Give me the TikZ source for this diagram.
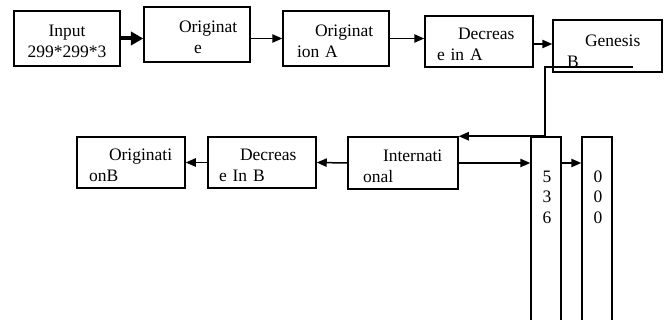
\documentclass[tikz,border=0pt]{standalone}
\usepackage{fontspec}
\setmainfont{Liberation Serif}
\usetikzlibrary{arrows.meta}

\tikzset{
    blk/.style={draw, line width=0.9pt, inner sep=0pt, align=left,
        minimum width=64.8pt, minimum height=31.2pt, text width=64.8pt,
        execute at begin node=\rule{0pt}{10.8pt}},
    col/.style={draw, line width=0.9pt, inner sep=0pt,
        minimum width=18pt, minimum height=115.8pt},
    arr/.style={line width=0.9pt, -{Triangle[length=6pt,width=5pt]}},
}

\begin{document}
\begin{tikzpicture}[x=0.6pt, y=-0.6pt, font=\fontsize{10.5}{12.6}\selectfont]
    \clip (0,0) rectangle (669,320);
    % top row
    \node[blk, minimum width=63.6pt, text width=63.6pt, minimum height=33pt, align=center] (inp) at (67,38.5) {Input\\299*299*3};
    \node[blk, minimum width=63.6pt, text width=63.6pt, minimum height=33pt] (orig) at (197,34.5) {\hspace*{21pt}Originat\\\hspace*{30pt}e};
    \node[blk, minimum width=63.6pt, text width=63.6pt, minimum height=33pt] (origA) at (336,38.5) {\hspace*{19.2pt}Originat\\\hspace*{8.4pt}ion A};
    \node[blk, minimum height=30.6pt] (decA) at (479,41.5) {\hspace*{19.8pt}Decreas\\\hspace*{7.2pt}e in A};
    \node[blk, minimum width=65.4pt, text width=65.4pt] (gen) at (607.5,46) {\rule{0pt}{12.7pt}\hspace*{19.2pt}Genesis\\\hspace*{8.4pt}B};
    % bottom row
    \node[blk, minimum width=66pt, text width=66pt] (intl) at (403,163) {\hspace*{21pt}Internati\\\hspace*{9pt}onal};
    \node[blk, minimum height=30.6pt] (decB) at (262,162.5) {\hspace*{19.2pt}Decreas\\\hspace*{6.6pt}e In B};
    \node[blk, minimum height=30.6pt] (origB) at (131,162.5) {\hspace*{19.2pt}Originati\\\hspace*{7.2pt}onB};
    % tall columns
    \node[col] (colA) at (546,233.5) {};
    \node[col] (colB) at (597,233.5) {};
    \node[align=center, inner sep=0pt, font=\fontsize{10.5}{12.3}\selectfont] (colAtxt) at (547,197) {5\\3\\6};
    \node[align=center, inner sep=0pt, font=\fontsize{10.5}{12.3}\selectfont] (colBtxt) at (598,197) {0\\0\\0};

    % connectors
    \draw[line width=2.4pt, -{Triangle[length=7.5pt,width=8pt]}] (inp.east) -- (inp.east -| orig.west);
    \draw[arr] (origA.west -| orig.east) -- (origA.west);
    \draw[arr] (origA.east) -- (origA.east -| decA.west);
    \draw[arr] ([yshift=-1.5pt]decA.east) -- ([yshift=-1.5pt]decA.east -| gen.west);
    \coordinate (gtail) at (633,67);
    \draw[arr] (gtail) -- (545,67) |- (intl.north east);
    \draw[arr] (intl.west) -- (decB.east);
    \draw[arr] (decB.west) -- (origB.east);
    \draw[arr] (intl.east) -- (intl.east -| colA.west);
    \draw[arr] (intl.east -| colA.east) -- (intl.east -| colB.west);
\end{tikzpicture}
\end{document}
